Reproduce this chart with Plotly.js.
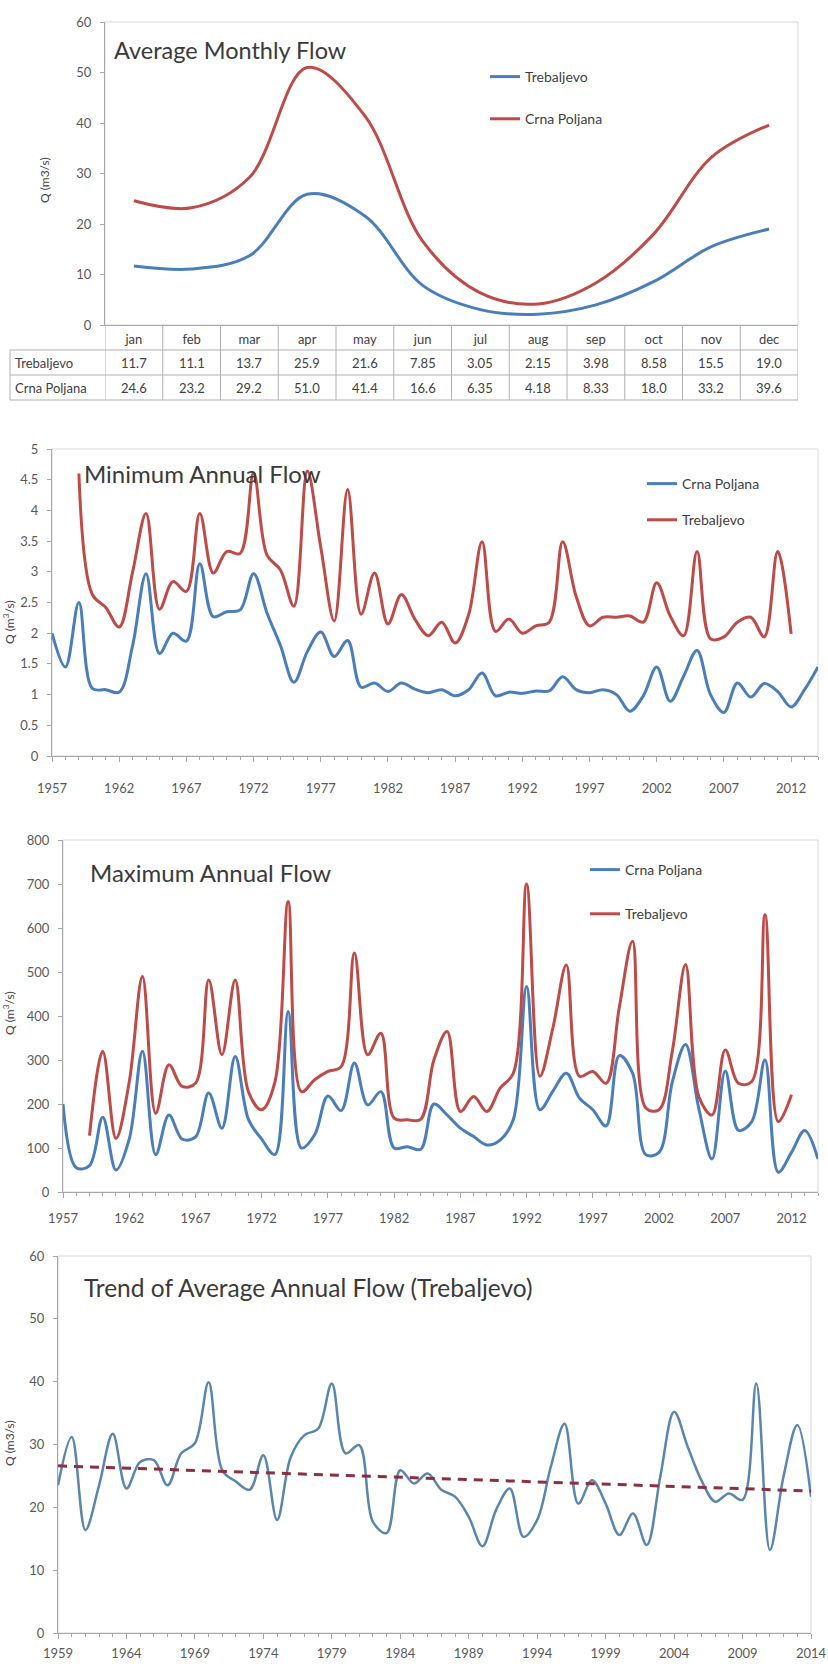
<!DOCTYPE html>
<html><head><meta charset="utf-8">
<script src="https://cdn.plot.ly/plotly-3.0.1.min.js"></script>
<style>html,body{margin:0;padding:0;background:#fff;}#chart{width:828px;height:1664px;}</style>
</head><body><div id="chart"></div>
<script>
// ---------- Panel 1: average monthly flow ----------
const months = ['jan','feb','mar','apr','may','jun','jul','aug','sep','oct','nov','dec'];
const trebaljevoMonthly = [11.7, 11.1, 13.7, 25.9, 21.6, 7.85, 3.05, 2.15, 3.98, 8.58, 15.5, 19.0];
const crnaPoljanaMonthly = [24.6, 23.2, 29.2, 51.0, 41.4, 16.6, 6.35, 4.18, 8.33, 18.0, 33.2, 39.6];

// ---------- Panels 2 & 3: years 1957-2014 ----------
const years5714 = [1957,1958,1959,1960,1961,1962,1963,1964,1965,1966,1967,1968,1969,1970,1971,1972,1973,1974,1975,1976,
  1977,1978,1979,1980,1981,1982,1983,1984,1985,1986,1987,1988,1989,1990,1991,1992,1993,1994,1995,1996,
  1997,1998,1999,2000,2001,2002,2003,2004,2005,2006,2007,2008,2009,2010,2011,2012,2013,2014];

const minCrnaPoljana = [2.0,1.45,2.5,1.1,1.08,1.04,1.8,2.97,1.67,2.0,
  1.87,3.13,2.27,2.35,2.38,2.97,2.33,1.8,1.2,1.7,
  2.02,1.62,1.88,1.12,1.19,1.05,1.19,1.09,1.03,1.08,
  0.98,1.08,1.35,0.98,1.04,1.02,1.06,1.06,1.29,1.08,
  1.03,1.08,1.0,0.73,0.98,1.45,0.89,1.3,1.72,1.0,
  0.71,1.19,0.96,1.18,1.05,0.8,1.08,1.45];
const minTrebaljevo = [null,null,4.6,2.63,2.42,2.1,3.0,3.95,2.39,2.84,
  2.68,3.95,2.98,3.33,3.3,4.61,3.27,3.03,2.44,4.64,
  3.4,2.2,4.34,2.31,2.98,2.15,2.63,2.23,1.96,2.18,
  1.84,2.3,3.49,2.03,2.23,2.0,2.12,2.18,3.49,2.6,
  2.12,2.26,2.26,2.28,2.18,2.82,2.28,1.96,3.33,1.91,
  1.94,2.18,2.26,1.94,3.33,1.99,null,null];

const maxCrnaPoljana = [200,55,60,170,50,120,320,85,175,120,
  125,225,145,308,165,120,85,410,100,130,
  218,185,293,198,228,100,103,97,200,175,
  145,126,107,118,165,467,187,230,270,213,
  187,150,310,270,85,90,250,335,190,75,
  275,140,160,300,45,90,140,75];
const maxTrebaljevo = [null,null,128,320,122,250,490,179,289,240,
  247,482,312,482,228,187,250,660,228,255,
  274,285,543,312,361,168,164,165,300,365,
  183,217,183,236,270,700,263,375,516,263,
  274,247,420,570,191,187,320,517,217,175,
  323,247,251,630,160,221,null,null];

// ---------- Panel 4: average annual flow at Trebaljevo 1959-2014 ----------
const years5914 = [1959,1960,1961,1962,1963,1964,1965,1966,1967,1968,1969,1970,1971,1972,1973,1974,1975,1976,
  1977,1978,1979,1980,1981,1982,1983,1984,1985,1986,1987,1988,1989,1990,1991,1992,1993,1994,1995,1996,
  1997,1998,1999,2000,2001,2002,2003,2004,2005,2006,2007,2008,2009,2010,2011,2012,2013,2014];
const avgTrebaljevo = [23.5,31.2,16.4,23.5,31.7,23.0,27.2,27.5,23.5,28.6,30.2,39.9,25.9,24.1,22.8,28.3,18.0,28.0,
  31.5,32.5,39.7,28.6,29.9,17.7,15.9,25.9,23.8,25.4,22.8,21.7,18.5,13.8,19.6,23.0,15.3,18.0,26.5,33.3,
  20.6,24.3,20.6,15.6,19.0,14.0,25.0,35.2,29.6,24.3,20.9,22.2,21.2,39.7,13.2,25.0,33.1,21.7];
const trendYears = [1959, 2014];
const trendValues = [26.6, 22.6];

// ---------- styling ----------
const W = 828, H = 1664;
const fx = p => p / W;
const fy = p => 1 - p / H;
const FONT = 'Lato, "Liberation Sans", sans-serif';
const BLUE = '#4a7ebb', RED = '#be4b48', AX = '#a6a6a6', TICK = '#595959', TXT = '#404040';

const lineStyle = c => ({shape:'spline', smoothing:1, color:c, width:3});

const traces = [
  {x:months, y:trebaljevoMonthly, type:'scatter', mode:'lines', name:'Trebaljevo', line:lineStyle(BLUE), xaxis:'x', yaxis:'y', legend:'legend', legendgroup:'p1a'},
  {x:months, y:crnaPoljanaMonthly, type:'scatter', mode:'lines', name:'Crna Poljana', line:lineStyle(RED), xaxis:'x', yaxis:'y', legend:'legend', legendgroup:'p1b'},
  {x:years5714, y:minCrnaPoljana, type:'scatter', mode:'lines', name:'Crna Poljana', line:lineStyle(BLUE), xaxis:'x2', yaxis:'y2', legend:'legend2', legendgroup:'p2a'},
  {x:years5714, y:minTrebaljevo, type:'scatter', mode:'lines', name:'Trebaljevo', line:lineStyle(RED), xaxis:'x2', yaxis:'y2', legend:'legend2', legendgroup:'p2b'},
  {x:years5714, y:maxCrnaPoljana, type:'scatter', mode:'lines', name:'Crna Poljana', line:lineStyle(BLUE), xaxis:'x3', yaxis:'y3', legend:'legend3', legendgroup:'p3a'},
  {x:years5714, y:maxTrebaljevo, type:'scatter', mode:'lines', name:'Trebaljevo', line:lineStyle(RED), xaxis:'x3', yaxis:'y3', legend:'legend3', legendgroup:'p3b'},
  {x:years5914, y:avgTrebaljevo, type:'scatter', mode:'lines', name:'Trebaljevo', line:{shape:'spline', smoothing:1, color:'#5a86ad', width:2.5}, xaxis:'x4', yaxis:'y4', showlegend:false},
  {x:trendYears, y:trendValues, type:'scatter', mode:'lines', name:'Trend', line:{color:'#8c2f3f', width:3, dash:'9px,7px'}, xaxis:'x4', yaxis:'y4', showlegend:false}
];

const tickFont = {family:FONT, size:13, color:TICK};
const yBase = {showline:true, linecolor:AX, linewidth:1, ticks:'outside', ticklen:4, tickcolor:AX, showgrid:false, zeroline:false, tickfont:tickFont, ticklabelstandoff:6, fixedrange:true};
const xYear = (range, tick0, standoff) => ({range:range, tick0:tick0, dtick:5, showline:true, linecolor:AX, linewidth:1, ticks:'outside', ticklen:5, tickcolor:AX,
  minor:{dtick:1, tick0:tick0, ticks:'outside', ticklen:3, tickcolor:AX}, showgrid:false, zeroline:false, tickfont:tickFont, ticklabelstandoff:standoff, fixedrange:true});

const layout = {
  width:W, height:H, margin:{l:0,r:0,t:0,b:0}, paper_bgcolor:'#ffffff', plot_bgcolor:'rgba(0,0,0,0)',
  font:{family:FONT, size:13, color:TXT}, showlegend:true,
  xaxis: {domain:[fx(105),fx(798)], anchor:'y', type:'category', categoryorder:'array', categoryarray:months, range:[-0.5,11.5],
    showline:true, linecolor:AX, ticks:'', showgrid:false, zeroline:false, tickfont:{family:FONT, size:13, color:TXT}, ticklabelstandoff:2, fixedrange:true},
  yaxis: Object.assign({domain:[fy(325),fy(22)], anchor:'x', range:[0,60], dtick:10}, yBase),
  xaxis2: Object.assign({domain:[fx(52),fx(818)], anchor:'y2'}, xYear([1957,2014],1957,15)),
  yaxis2: Object.assign({domain:[fy(756),fy(449)], anchor:'x2', range:[0,5], dtick:0.5}, yBase),
  xaxis3: Object.assign({domain:[fx(63),fx(818)], anchor:'y3'}, xYear([1957,2014],1957,9)),
  yaxis3: Object.assign({domain:[fy(1192),fy(840)], anchor:'x3', range:[0,800], dtick:100}, yBase),
  xaxis4: Object.assign({domain:[fx(58),fx(811)], anchor:'y4'}, xYear([1959,2014],1959,3)),
  yaxis4: Object.assign({domain:[fy(1633),fy(1256)], anchor:'x4', range:[0,60], dtick:10}, yBase),
  legend:  {x:fx(485), y:fy(61),  xanchor:'left', yanchor:'top', bgcolor:'rgba(0,0,0,0)', font:{family:FONT,size:14,color:TXT}, tracegroupgap:21, traceorder:'grouped'},
  legend2: {x:fx(642), y:fy(468), xanchor:'left', yanchor:'top', bgcolor:'rgba(0,0,0,0)', font:{family:FONT,size:14,color:TXT}, tracegroupgap:15, traceorder:'grouped'},
  legend3: {x:fx(585), y:fy(854), xanchor:'left', yanchor:'top', bgcolor:'rgba(0,0,0,0)', font:{family:FONT,size:14,color:TXT}, tracegroupgap:23, traceorder:'grouped'},
  shapes: [], annotations: []
};

// light top/right borders of each plot area
[['x','y'],['x2','y2'],['x3','y3'],['x4','y4']].forEach(([xa,ya]) => {
  layout.shapes.push({type:'rect', xref:xa+' domain', yref:ya+' domain', x0:0, x1:1, y0:0, y1:1, line:{color:'#d9d9d9', width:1}, layer:'below'});
});

// data table under panel 1
const GRID = '#b0b0b0';
for (let i = -1; i < months.length; i++) {
  layout.shapes.push({type:'line', xref:'x', yref:'paper', x0:i+0.5, x1:i+0.5, y0:fy(325), y1:fy(400), line:{color:GRID, width:1}});
}
[350, 375, 400].forEach(py => layout.shapes.push({type:'line', xref:'paper', yref:'paper', x0:fx(10), x1:fx(798), y0:fy(py), y1:fy(py), line:{color:GRID, width:1}}));
layout.shapes.push({type:'line', xref:'paper', yref:'paper', x0:fx(10), x1:fx(10), y0:fy(350), y1:fy(400), line:{color:GRID, width:1}});

const tableRows = [['Trebaljevo', trebaljevoMonthly, 362.5], ['Crna Poljana', crnaPoljanaMonthly, 387.5]];
tableRows.forEach(([label, vals, py]) => {
  layout.annotations.push({xref:'paper', yref:'paper', x:fx(13), y:fy(py), xanchor:'left', yanchor:'middle', showarrow:false, text:label, font:{family:FONT, size:13, color:TXT}});
  vals.forEach((v, i) => layout.annotations.push({xref:'x', yref:'paper', x:months[i], y:fy(py), xanchor:'center', yanchor:'middle', showarrow:false,
    text:v.toPrecision(3), font:{family:FONT, size:13, color:TXT}}));
});

// titles
const titles = [
  ['Average Monthly Flow', 112, 50, 23.5],
  ['Minimum Annual Flow', 82, 473, 24],
  ['Maximum Annual Flow', 88, 872, 24],
  ['Trend of Average Annual Flow (Trebaljevo)', 82, 1287, 24.5]
];
titles.forEach(([t, px, py, s]) => layout.annotations.push({xref:'paper', yref:'paper', x:fx(px), y:fy(py), xanchor:'left', yanchor:'middle', showarrow:false, text:t, font:{family:FONT, size:s, color:'#3a3a3a'}}));

// y-axis titles
const yTitles = [
  ['Q (m3/s)', 45, 180],
  ['Q (m<sup>3</sup>/s)', 9, 622],
  ['Q (m<sup>3</sup>/s)', 9, 1013],
  ['Q (m3/s)', 9, 1443]
];
yTitles.forEach(([t, px, py]) => layout.annotations.push({xref:'paper', yref:'paper', x:fx(px), y:fy(py), xanchor:'center', yanchor:'middle', textangle:-90, showarrow:false, text:t, font:{family:FONT, size:12, color:TXT}}));

Plotly.newPlot('chart', traces, layout, {displayModeBar:false, staticPlot:true});
</script></body></html>
